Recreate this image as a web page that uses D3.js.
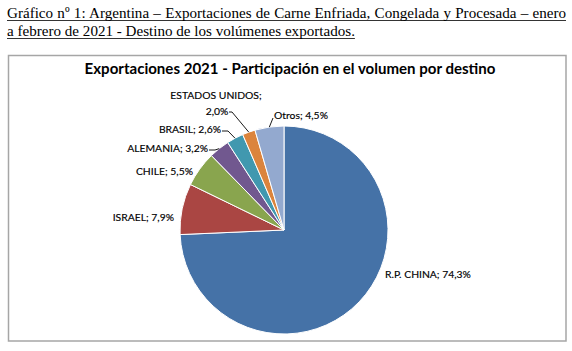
<!DOCTYPE html>
<html>
<head>
<meta charset="utf-8">
<script src="https://cdn.jsdelivr.net/npm/d3@7"></script>
<style>
  body { margin: 0; background: white; }
  svg { display: block; }
</style>
</head>
<body>
<div class="display"></div>
<script>
const categories = ['R.P. CHINA', 'ISRAEL', 'CHILE', 'ALEMANIA', 'BRASIL', 'ESTADOS UNIDOS', 'Otros'];
const shares = [74.3, 7.9, 5.5, 3.2, 2.6, 2.0, 4.5];
const colors = ['#4572A7', '#AA4643', '#89A54E', '#71588F', '#4198AF', '#DB843D', '#93A9CF'];

const headerLines = [
    'Gráfico nº 1: Argentina – Exportaciones de Carne Enfriada, Congelada y Procesada – enero',
    'a febrero de 2021 - Destino de los volúmenes exportados.'
];
const chartTitle = 'Exportaciones 2021 - Participación en el volumen por destino';

// where each data label sits, relative to the pie centre
const labelLayout = [
    { x: 101, y: 48, anchor: 'start', leader: false },
    { x: -110, y: -9, anchor: 'end', leader: false },
    { x: -91, y: -55, anchor: 'end', leader: false },
    { x: -76, y: -78, anchor: 'end', leader: true },
    { x: -63, y: -97, anchor: 'end', leader: true },
    { x: -68, y: -115, anchor: 'middle', leader: true, split: true },
    { x: -10, y: -111, anchor: 'start', leader: true }
];

const width = 572;
const height = 351;
const cx = 284;
const cy = 230;
const radius = 104;

const svg = d3.select('.display')
    .append('svg')
    .attr('width', width)
    .attr('height', height);

// scale a text's font so that it spans a given width
function fitWidth(sel, target) {
    const size = parseFloat(sel.attr('font-size'));
    const w = sel.node().getComputedTextLength();
    sel.attr('font-size', size * target / w);
}

// header (justified first line, underlined)
const header = svg.append('g');
const serif = '"Liberation Serif", "Times New Roman", serif';
const h1 = header.append('text')
    .attr('x', 7).attr('y', 18)
    .attr('font-family', serif)
    .attr('font-size', 14)
    .text(headerLines[0]);
fitWidth(h1, 553);
const natural = h1.node().getComputedTextLength();
const spaces = headerLines[0].split(' ').length - 1;
h1.attr('word-spacing', (559 - natural) / spaces);
const h2 = header.append('text')
    .attr('x', 7).attr('y', 36)
    .attr('font-family', serif)
    .attr('font-size', h1.attr('font-size'))
    .text(headerLines[1]);

[[h1, 18], [h2, 36]].forEach(([t, y]) => {
    header.append('line')
        .attr('x1', 7)
        .attr('x2', 7 + t.node().getBBox().width)
        .attr('y1', y + 2.5).attr('y2', y + 2.5)
        .attr('stroke', '#000')
        .attr('stroke-width', 0.8);
});

// chart frame
svg.append('rect')
    .attr('x', 8.5).attr('y', 55.5)
    .attr('width', 557.5).attr('height', 285.5)
    .attr('fill', 'white')
    .attr('stroke', '#a6a6a6')
    .attr('stroke-width', 1.5);

const title = svg.append('text')
    .attr('x', 290).attr('y', 73.5)
    .attr('text-anchor', 'middle')
    .attr('font-family', 'Lato, "Open Sans", sans-serif')
    .attr('font-weight', 'bold')
    .attr('font-size', 16)
    .attr('fill', '#000')
    .text(chartTitle);
fitWidth(title, 411);

const pie = d3.pie().sort(null).value(d => d)(shares);
const arc = d3.arc().innerRadius(0).outerRadius(radius);
const edge = d3.arc().innerRadius(radius).outerRadius(radius);

const g = svg.append('g').attr('transform', `translate(${cx}, ${cy})`);

g.selectAll('path')
    .data(pie)
    .enter()
    .append('path')
    .attr('d', arc)
    .attr('fill', (_, i) => colors[i])
    .attr('stroke', 'white')
    .attr('stroke-width', 1);

const fmt = v => v.toFixed(1).replace('.', ',') + '%';
const labelFont = 'Lato, "Open Sans", sans-serif';

// find label font size from the widest label
const probe = svg.append('text')
    .attr('font-family', labelFont)
    .attr('font-size', 11)
    .text('R.P. CHINA; 74,3%');
fitWidth(probe, 86);
const labelSize = probe.attr('font-size');
probe.remove();

pie.forEach((d, i) => {
    const lay = labelLayout[i];
    const t = g.append('text')
        .attr('x', lay.x)
        .attr('y', lay.y)
        .attr('text-anchor', lay.anchor)
        .attr('font-family', labelFont)
        .attr('font-size', labelSize)
        .attr('fill', '#000')
        .attr('stroke', '#000')
        .attr('stroke-width', 0.15);
    if (lay.split) {
        t.append('tspan').attr('x', lay.x).attr('dy', -16).text(categories[i] + ';');
        t.append('tspan').attr('x', lay.x + 1).attr('dy', 16).text(fmt(shares[i]));
    } else {
        t.text(`${categories[i]}; ${fmt(shares[i])}`);
    }

    if (lay.leader) {
        const [ex, ey] = edge.centroid(d);
        let sx, sy, mx;
        if (lay.anchor === 'start') {
            sx = lay.x - 1; sy = lay.y - 1;
            mx = sx - 2;
        } else if (lay.split) {
            sx = lay.x + 13; sy = lay.y - 3;
            mx = sx + 3;
        } else {
            sx = lay.x + 1; sy = lay.y - 2;
            mx = sx + 6;
        }
        const pts = lay.anchor === 'start'
            ? [[sx, sy], [ex, ey]]
            : [[sx, sy], [mx, sy], [ex, ey]];
        g.append('path')
            .attr('d', d3.line()(pts))
            .attr('fill', 'none')
            .attr('stroke', '#000')
            .attr('stroke-width', 0.9);
    }
});
</script>
</body>
</html>
